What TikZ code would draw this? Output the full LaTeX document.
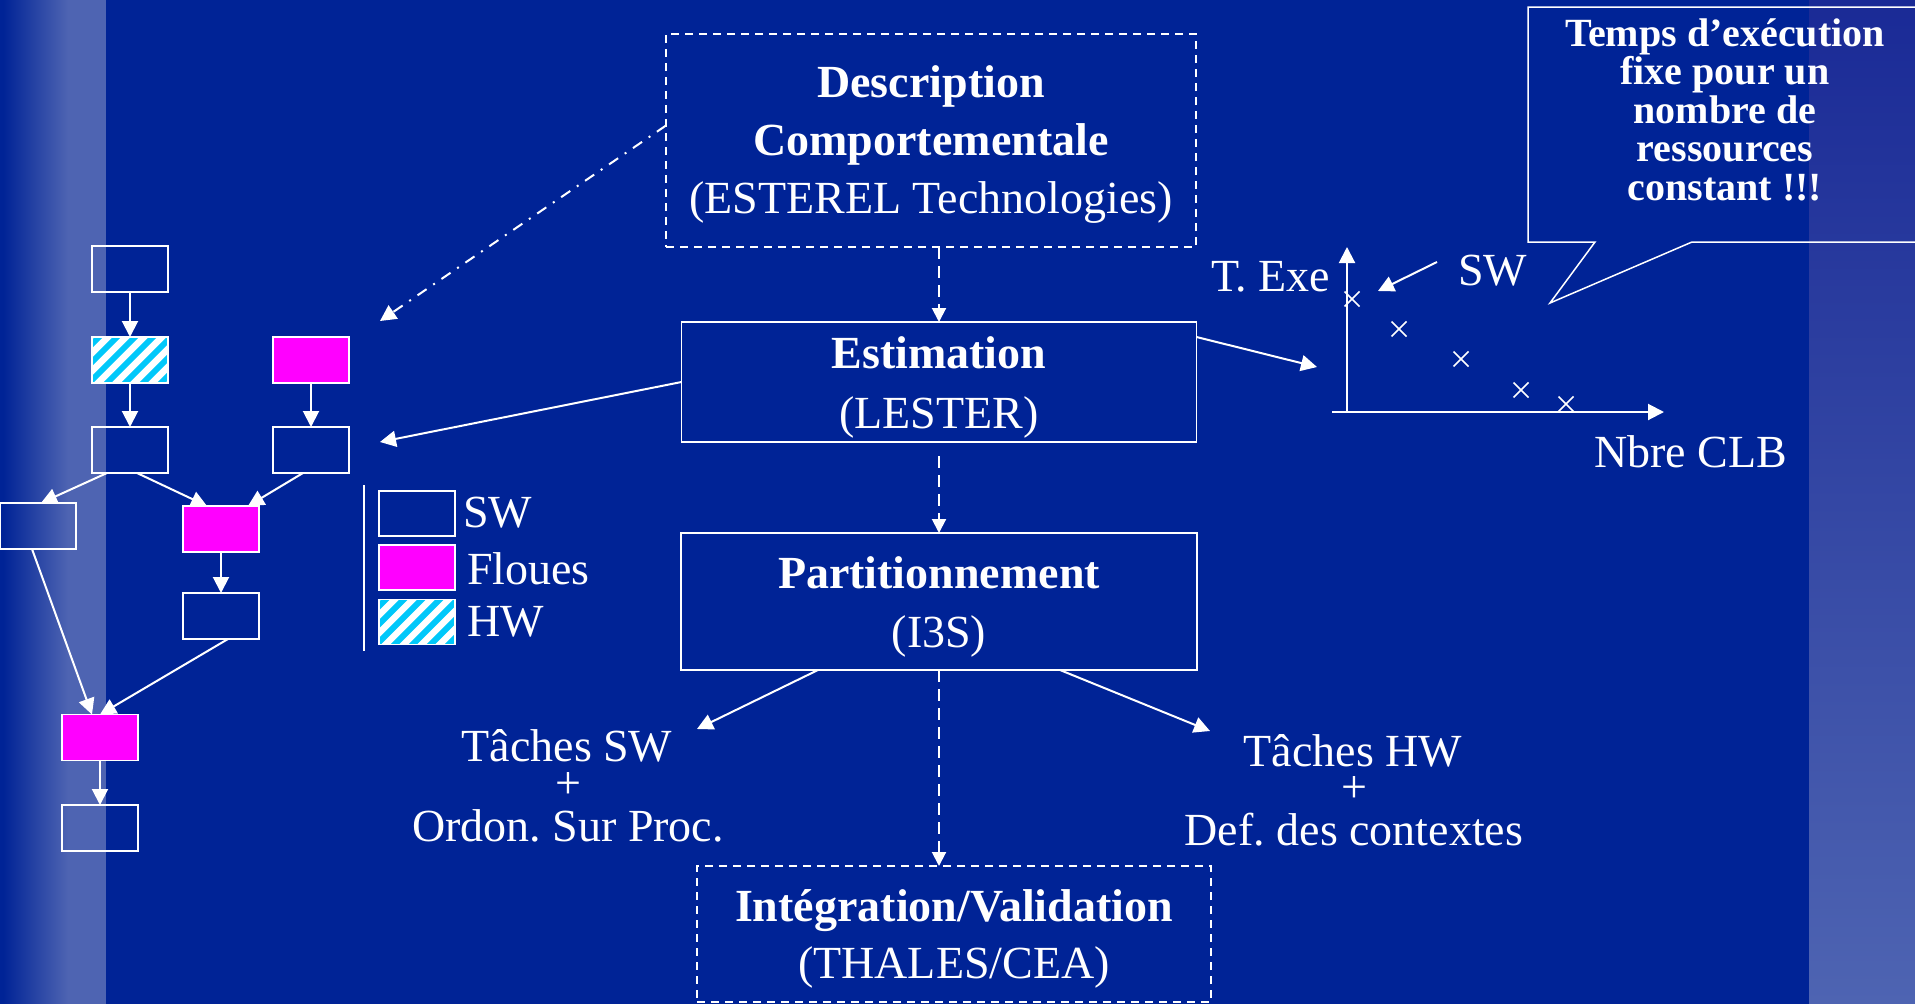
\documentclass[tikz,border=0pt]{standalone}
\usepackage{fontspec}
\setmainfont{Liberation Serif}
\usetikzlibrary{arrows.meta,calc}
\definecolor{bg}{RGB}{0,35,150}
\definecolor{stripe}{RGB}{78,100,178}
\definecolor{stripetop}{RGB}{26,42,150}
\definecolor{hwcyan}{RGB}{0,200,250}
\definecolor{flmag}{RGB}{255,0,255}
\frenchspacing
\begin{document}
\begin{tikzpicture}[x=1pt,y=-1pt,
  bx/.style={draw=white,line width=1.4pt,minimum width=76pt,minimum height=46pt,inner sep=0pt,outer sep=0pt},
  swbox/.style={bx},
  flbox/.style={bx,fill=flmag},
  hwbox/.style={bx,path picture={
      \fill[white] (path picture bounding box.south west) rectangle (path picture bounding box.north east);
      \foreach \k in {-5,...,5}{
        \draw[hwcyan,line width=6pt] ($(path picture bounding box.center)+(\k*18-60,60)$) -- ++(120,-120);
      }}},
  arr/.style={white,line width=2pt,-{Triangle[length=16pt,width=16pt]}},
  darr/.style={white,line width=2pt,dash pattern=on 12pt off 7pt,-{Triangle[length=14pt,width=14pt]}},
  ddarr/.style={white,line width=2pt,dash pattern=on 11pt off 8pt on 2pt off 8pt,-{Triangle[length=16pt,width=16pt]}},
  mainbox/.style={draw=white,line width=1.6pt,inner sep=0pt,outer sep=0pt},
  dashbox/.style={mainbox,dash pattern=on 8pt off 6pt},
  big/.style={font=\fontsize{46}{50}\selectfont,text=white,inner sep=0pt},
  bigb/.style={font=\fontsize{46}{50}\selectfont\bfseries,text=white,inner sep=0pt},
  callt/.style={font=\fontsize{40}{38.5}\selectfont\bfseries,text=white,inner sep=0pt,align=center}
]
\useasboundingbox (0,0) rectangle (1915,1004);
% background
\fill[bg] (0,0) rectangle (1915,1004);
\shade[left color=bg,right color=stripe] (3,0) rectangle (68,1004);
\fill[stripe] (67.5,0) rectangle (106,1004);
\shade[top color=stripetop,bottom color=stripe] (1809,0) rectangle (1915,1004);

% left task graph
\node[swbox] (A) at (130,269) {};
\node[hwbox] (B) at (130,360) {};
\node[flbox] (C) at (311,360) {};
\node[swbox] (D) at (130,450) {};
\node[swbox] (E) at (311,450) {};
\node[swbox] (F) at (38,526) {};
\node[flbox] (G) at (221,529) {};
\node[swbox] (H) at (221,616) {};
\node[flbox] (I) at (100,737.5) {};
\node[swbox] (J) at (100,828) {};
\draw[arr] (A.south) -- (B.north);
\draw[arr] (B.south) -- (D.north);
\draw[arr] (C.south) -- (E.north);
\draw[arr] ($(D.south)+(-23,0)$) -- ($(F.north)+(3,0)$);
\draw[arr] ($(D.south)+(7,0)$) -- ($(G.north)+(-14,0)$);
\draw[arr] ($(E.south)+(-8,0)$) -- ($(G.north)+(27,0)$);
\draw[arr] (G.south) -- (H.north);
\draw[arr] ($(F.south)+(-6,0)$) -- ($(I.north)+(-8,0)$);
\draw[arr] ($(H.south)+(7,0)$) -- (I.north);
\draw[arr] (I.south) -- (J.north);

% legend
\draw[white,line width=2pt] (364,485) -- (364,651);
\node[swbox,minimum height=45pt] (lsw) at (417,513.5) {};
\node[flbox,minimum height=45pt] (lfl) at (417,567.5) {};
\node[hwbox,minimum height=45pt] (lhw) at (417,622) {};
\node[big,anchor=base west] (lswt) at (463,527) {SW};
\node[big,anchor=base west] (lflt) at (467,584) {Floues};
\node[big,anchor=base west] (lhwt) at (467,636) {HW};

% central flow
\node[dashbox,minimum width=530pt,minimum height=213pt] (Desc) at (931,140.5) {};
\node[bigb,anchor=base] (descA) at (931,97) {Description};
\node[bigb,anchor=base] (descB) at (931,155) {Comportementale};
\node[big,anchor=base] (descC) at (931,213) {(ESTEREL Technologies)};

\node[mainbox,minimum width=515pt,minimum height=120pt] (Est) at (939,382) {};
\node[bigb,anchor=base] (estA) at (939,368) {Estimation};
\node[big,anchor=base] (estB) at (939,428) {(LESTER)};

\node[mainbox,minimum width=516pt,minimum height=137pt] (Part) at (939,601.5) {};
\node[bigb,anchor=base] (partA) at (939,588) {Partitionnement};
\node[big,anchor=base] (partB) at (939,647) {(I3S)};

\node[dashbox,minimum width=514pt,minimum height=136pt] (Int) at (954,934) {};
\node[bigb,anchor=base] (intA) at (954,921) {Intégration/Validation};
\node[big,anchor=base] (intB) at (954,978) {(THALES/CEA)};

\draw[darr] (Est.north |- Desc.south) -- (Est.north);
\draw[darr,shorten <=14pt] (Est.south) -- (Part.north);
\draw[darr] (Part.south) -- (Part.south |- Int.north);

\coordinate (gtip) at (380,321);
\draw[ddarr] ($(Desc.west)+(0,-15)$) -- (gtip);
\coordinate (etip) at (380,442);
\draw[arr] (Est.west) -- (etip);
\coordinate (ctip) at (1317,367);
\draw[arr] ($(Est.east)+(0,-45)$) -- (ctip);

% outputs of partitioning
\node[big,anchor=base] (tswA) at (567,761) {Tâches SW};
\node[big,anchor=base] (tswB) at (568,798) {+};
\node[big,anchor=base] (tswC) at (568,841) {Ordon. Sur Proc.};
\node[big,anchor=base] (thwA) at (1353,766) {Tâches HW};
\node[big,anchor=base] (thwB) at (1354,802) {+};
\node[big,anchor=base] (thwC) at (1354,845) {Def. des contextes};
\coordinate (swtip) at (697,729);
\coordinate (hwtip) at (1210,731);
\draw[arr] ($(Part.south)+(-121,0)$) -- (swtip);
\draw[arr] ($(Part.south)+(121,0)$) -- (hwtip);

% chart
\coordinate (O) at (1347,412);
\coordinate (ytop) at (1347,247);
\coordinate (xl) at (1332,412);
\coordinate (xr) at (1664,412);
\draw[arr] (O) -- (ytop);
\draw[arr] (xl) -- (xr);
\node[big,anchor=base west] (texe) at (1211,291) {T. Exe};
\node[big,anchor=base west] (swl) at (1458,285) {SW};
\node[big,anchor=base west] (nclb) at (1594,467) {Nbre CLB};
\coordinate (swa) at (1437,262);
\coordinate (swb) at (1378,291);
\draw[arr] (swa) -- (swb);
\foreach \p in {(1352,299),(1399,329),(1461,359),(1521,390),(1566,404)}{
  \draw[white,line width=1.5pt] \p ++(-7.5,-7.5) -- ++(15,15);
  \draw[white,line width=1.5pt] \p ++(-7.5,7.5) -- ++(15,-15);
}

% callout
\draw[white,line width=1.5pt] (1916,7) -- (1528,7) -- (1528,242) -- (1595,242) -- (1550,303) -- (1692,242) -- (1916,242);
\node[callt,anchor=base] (call) at (1725,200) {Temps d’exécution\\fixe pour un\\nombre de\\ressources\\constant !!!};
\end{tikzpicture}
\end{document}
